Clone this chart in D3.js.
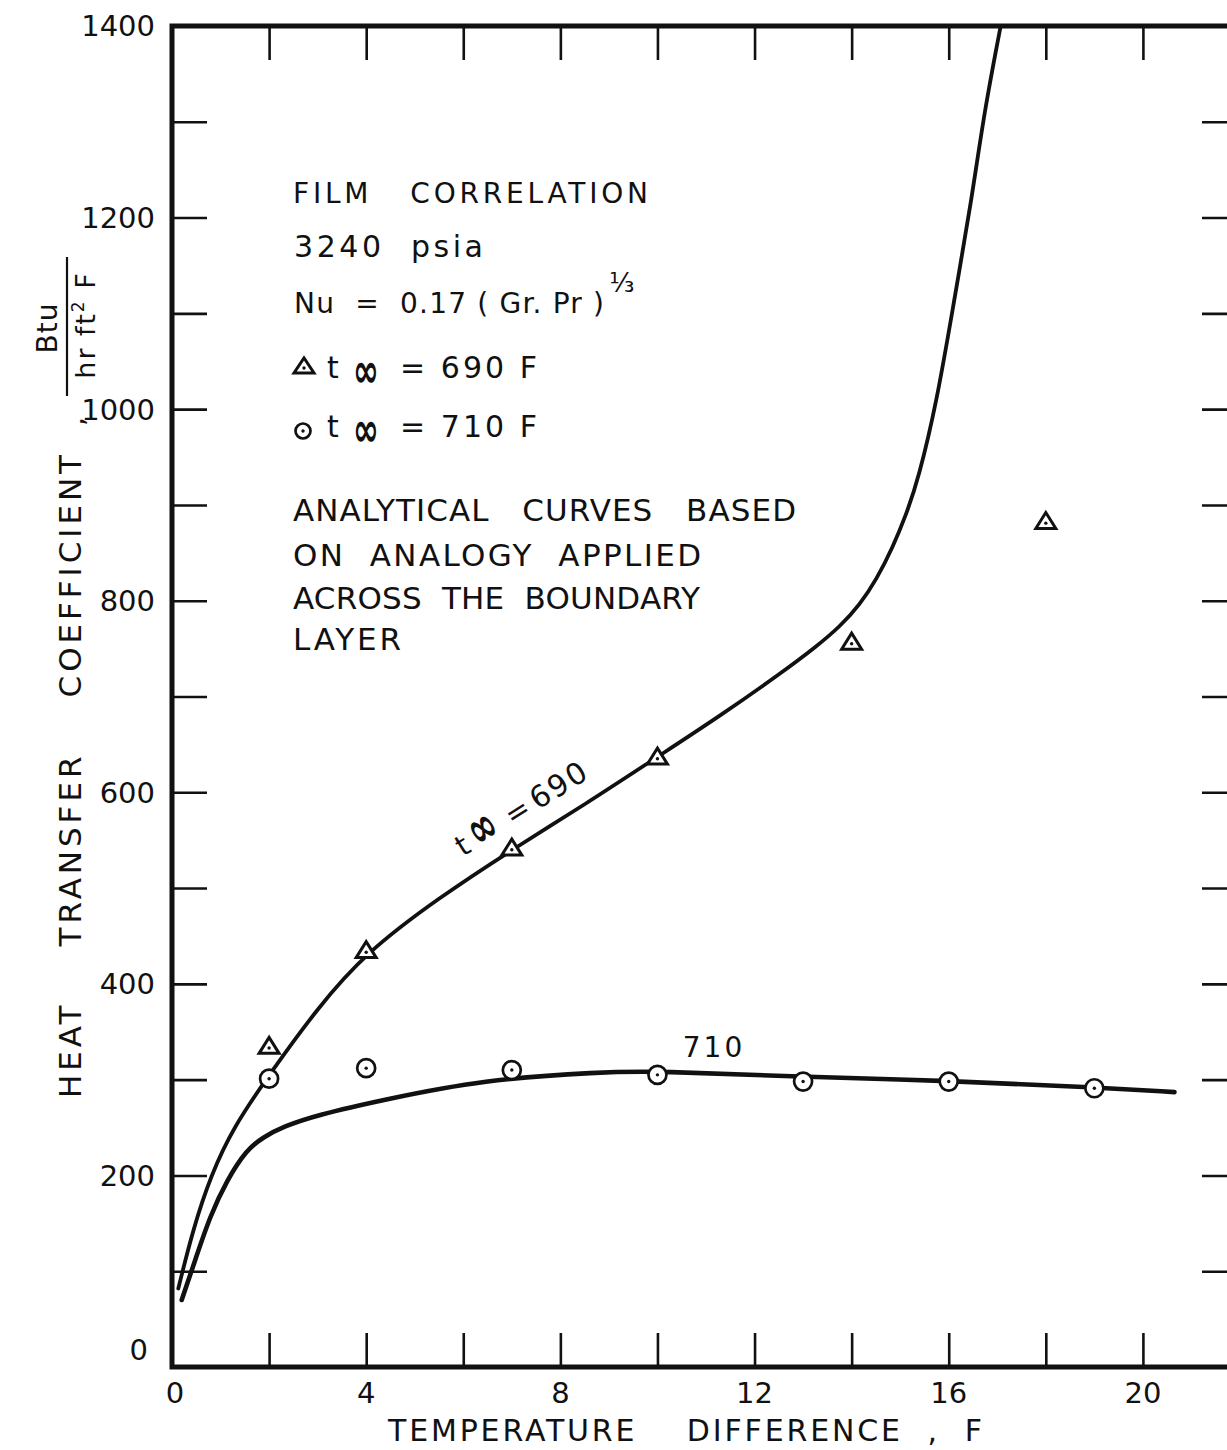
<!DOCTYPE html>
<html>
<head>
<meta charset="utf-8">
<script src="https://cdn.jsdelivr.net/npm/d3@7"></script>
<style>
  html, body { margin: 0; padding: 0; background: #fff; }
  svg { display: block; }
  text { font-family: "DejaVu Sans", sans-serif; fill: #111; white-space: pre; }
</style>
</head>
<body>
<svg id="chart" width="1227" height="1450"></svg>
<script>
// ---------------- data ----------------
const xTickMarks = [2, 4, 6, 8, 10, 12, 14, 16, 18, 20];
const xTickLabels = [0, 4, 8, 12, 16, 20];
const yTickMarks = [100, 200, 300, 400, 500, 600, 700, 800, 900, 1000, 1100, 1200, 1300];
const yTickLabels = [0, 200, 400, 600, 800, 1000, 1200, 1400];

// measured points, t_inf = 690 F (triangles)
const tri690X = [2, 4, 7, 10, 14, 18];
const tri690Y = [333, 433, 540, 635, 755, 881];
// measured points, t_inf = 710 F (circles)
const circ710X = [2, 4, 7, 10, 13, 16, 19];
const circ710Y = [301, 312, 310, 305, 298, 298, 291];

// analytical curve, t_inf = 690 F
const curve690X = [0.13, 0.44, 0.8, 1.26, 2, 3, 4, 5.5, 7, 8.5, 10, 11.3, 12.59, 13.27, 13.76, 14.17, 14.51, 14.85, 15.13, 15.37, 15.76, 16.1, 16.47, 16.73, 17.07];
const curve690Y = [82, 145, 200, 250, 305, 375, 433, 490, 540, 587, 637, 680, 726, 752, 773, 796, 822, 856, 891, 926, 1009, 1110, 1218, 1310, 1400];
// analytical curve, t_inf = 710 F
const curve710X = [0.2, 0.5, 0.78, 1.13, 1.54, 1.88, 2.29, 2.98, 4.35, 6.41, 8.81, 10, 12.9, 16, 19, 20.65];
const curve710Y = [70, 115, 157, 195, 227, 240, 251, 263, 279, 300, 308, 309, 303, 299, 292, 287];

const xDomain = [0, 22];
const yDomain = [0, 1400];

// ---------------- layout ----------------
const svg = d3.select("#chart");
const pL = 172, pR = 1240, pT = 26, pB = 1367;
const x = d3.scaleLinear().domain(xDomain).range([pL, pR]);
const y = d3.scaleLinear().domain(yDomain).range([pB, pT]);
const ink = "#111";

svg.append("defs").append("clipPath").attr("id", "plotclip")
  .append("rect").attr("x", pL).attr("y", pT).attr("width", pR - pL).attr("height", pB - pT);

function styleTicks(g, w) {
  g.select(".domain").remove();
  g.selectAll(".tick line").attr("stroke", ink).attr("stroke-width", w);
}
svg.append("g").attr("transform", `translate(0,${pB})`)
  .call(d3.axisBottom(x).tickValues(xTickMarks).tickSize(-34).tickFormat(""))
  .call(g => styleTicks(g, 2.6));
svg.append("g").attr("transform", `translate(0,${pT})`)
  .call(d3.axisTop(x).tickValues(xTickMarks).tickSize(-34).tickFormat(""))
  .call(g => styleTicks(g, 2.6));
svg.append("g").attr("transform", `translate(${pL},0)`)
  .call(d3.axisLeft(y).tickValues(yTickMarks).tickSize(-35).tickFormat(""))
  .call(g => styleTicks(g, 2.6));
svg.append("g").attr("transform", `translate(${pR},0)`)
  .call(d3.axisRight(y).tickValues(yTickMarks).tickSize(-38).tickFormat(""))
  .call(g => styleTicks(g, 2.6));

svg.append("rect").attr("x", pL).attr("y", pT).attr("width", pR - pL).attr("height", pB - pT)
  .attr("fill", "none").attr("stroke", ink).attr("stroke-width", 5);

// tick labels
svg.append("g").selectAll("text").data(yTickLabels).join("text")
  .attr("x", d => d === 0 ? 148 : 155)
  .attr("y", d => y(d) + (d === 0 ? -17 : 0))
  .attr("dy", "0.36em")
  .attr("text-anchor", "end")
  .attr("font-size", 29)
  .text(d => d);
svg.append("g").selectAll("text").data(xTickLabels).join("text")
  .attr("x", d => x(d) + (d === 0 ? 3 : 0))
  .attr("y", 1393)
  .attr("dy", "0.36em")
  .attr("text-anchor", "middle")
  .attr("font-size", 29)
  .text(d => d);

// axis titles
svg.append("text").attr("x", 388).attr("y", 1441)
  .attr("font-size", 30).attr("textLength", 594).attr("lengthAdjust", "spacing")
  .text("TEMPERATURE    DIFFERENCE  ,  F");

svg.append("text").attr("transform", "translate(81,1098) rotate(-90)")
  .attr("font-size", 31).attr("textLength", 643).attr("lengthAdjust", "spacing")
  .text("HEAT    TRANSFER    COEFFICIENT");
svg.append("text").attr("transform", "translate(84,426) rotate(-90)")
  .attr("font-size", 28).text(",");
svg.append("text").attr("transform", "translate(57,328) rotate(-90)")
  .attr("font-size", 28).attr("text-anchor", "middle").attr("letter-spacing", 1).text("Btu");
svg.append("line").attr("x1", 67).attr("x2", 67).attr("y1", 257).attr("y2", 396)
  .attr("stroke", ink).attr("stroke-width", 2.2);
const unit = svg.append("text").attr("transform", "translate(95,325) rotate(-90)")
  .attr("font-size", 27).attr("text-anchor", "middle").attr("letter-spacing", 2);
unit.append("tspan").text("hr ft");
unit.append("tspan").attr("font-size", 17).attr("dy", -11).text("2");
unit.append("tspan").attr("dy", 11).text(" F");

// curves
const line = d3.line().x(d => x(d[0])).y(d => y(d[1])).curve(d3.curveBasis);
const plot = svg.append("g").attr("clip-path", "url(#plotclip)");
plot.append("path").datum(d3.zip(curve690X, curve690Y)).attr("d", line)
  .attr("fill", "none").attr("stroke", ink).attr("stroke-width", 3.8).attr("stroke-linecap", "round");
plot.append("path").datum(d3.zip(curve710X, curve710Y)).attr("d", line)
  .attr("fill", "none").attr("stroke", ink).attr("stroke-width", 4.6).attr("stroke-linecap", "round");

// markers
function triangle(g, cx, cy, w, h) {
  g.append("path")
    .attr("d", `M${cx - w / 2},${cy + h / 3}L${cx + w / 2},${cy + h / 3}L${cx},${cy - 2 * h / 3}Z`)
    .attr("fill", "#fff").attr("stroke", ink).attr("stroke-width", 3).attr("stroke-linejoin", "miter");
  g.append("circle").attr("cx", cx).attr("cy", cy).attr("r", 1.7).attr("fill", ink);
}
function ring(g, cx, cy, r) {
  g.append("circle").attr("cx", cx).attr("cy", cy).attr("r", r)
    .attr("fill", "#fff").attr("stroke", ink).attr("stroke-width", 2.7);
  g.append("circle").attr("cx", cx).attr("cy", cy).attr("r", 1.7).attr("fill", ink);
}
const mk = svg.append("g");
d3.zip(tri690X, tri690Y).forEach(([a, b]) => triangle(mk, x(a), y(b), 20, 16));
d3.zip(circ710X, circ710Y).forEach(([a, b]) => ring(mk, x(a), y(b), 9));

// infinity sign, drawn tall like the lettering-guide "oo"
function infinity(g, tx, ty, size) {
  g.append("text").attr("transform", `translate(${tx},${ty}) scale(1,1.55)`)
    .attr("font-size", size).attr("font-weight", "bold").text("∞");
}

// curve labels
const lab690 = svg.append("g").attr("transform", "translate(463,857) rotate(-32)");
lab690.append("text").attr("x", 0).attr("y", 0).attr("font-size", 29).text("t");
infinity(lab690, 18, 2, 33);
lab690.append("text").attr("x", 58).attr("y", 0).attr("font-size", 29).text("=");
lab690.append("text").attr("x", 88).attr("y", 0).attr("font-size", 30).attr("letter-spacing", 2).text("690");
svg.append("text").attr("x", 714).attr("y", 1057).attr("text-anchor", "middle")
  .attr("font-size", 28).attr("letter-spacing", 3).text("710");

// annotation block
const ann = svg.append("g");
ann.append("text").attr("x", 293).attr("y", 203).attr("font-size", 28)
  .attr("textLength", 355).attr("lengthAdjust", "spacing").text("FILM   CORRELATION");
ann.append("text").attr("x", 294).attr("y", 257).attr("font-size", 30)
  .attr("textLength", 189).attr("lengthAdjust", "spacing").text("3240  psia");
const nu = ann.append("text").attr("x", 294).attr("y", 313).attr("font-size", 28);
nu.append("tspan").attr("textLength", 310).attr("lengthAdjust", "spacing").text("Nu  =  0.17 ( Gr. Pr )");
nu.append("tspan").attr("font-size", 26).attr("dx", 4).attr("dy", -21).text("⅓");

function legendRow(yb, sym, val) {
  if (sym === "tri") triangle(ann, 304, yb - 10, 20, 15);
  else ring(ann, 303, yb - 6, 7.5);
  ann.append("text").attr("x", 327).attr("y", yb).attr("font-size", 30).text("t");
  infinity(ann, 353, yb + 9, 31);
  ann.append("text").attr("x", 400).attr("y", yb).attr("font-size", 30)
    .attr("textLength", 137).attr("lengthAdjust", "spacing").text("= " + val + " F");
}
legendRow(378, "tri", 690);
legendRow(437, "circ", 710);

const block = [
  ["ANALYTICAL   CURVES   BASED", 521, 503],
  ["ON  ANALOGY  APPLIED", 566, 408],
  ["ACROSS  THE  BOUNDARY", 609, 407],
  ["LAYER", 650, 108]
];
block.forEach(([t, yb, w]) => {
  ann.append("text").attr("x", 293).attr("y", yb).attr("font-size", 31)
    .attr("textLength", w).attr("lengthAdjust", "spacing").text(t);
});
</script>
</body>
</html>
